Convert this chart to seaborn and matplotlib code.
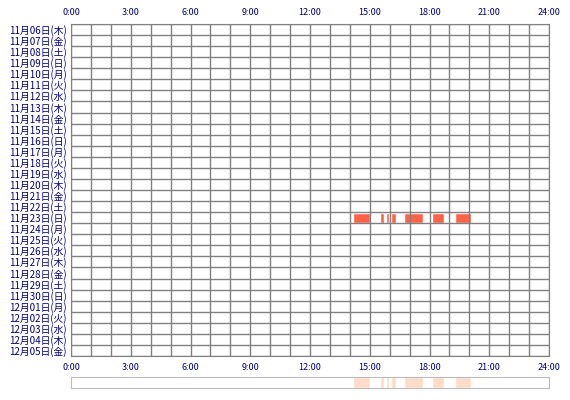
import matplotlib
matplotlib.use('Agg')
import matplotlib.pyplot as plt
import seaborn as sns
import pandas as pd

sns.set_style('white')
plt.rcParams['font.family'] = ['Noto Sans CJK JP', 'DejaVu Sans']

# Day labels (top to bottom)
days = ['11月06日(木)', '11月07日(金)', '11月08日(土)', '11月09日(日)', '11月10日(月)',
        '11月11日(火)', '11月12日(水)', '11月13日(木)', '11月14日(金)', '11月15日(土)',
        '11月16日(日)', '11月17日(月)', '11月18日(火)', '11月19日(水)', '11月20日(木)',
        '11月21日(金)', '11月22日(土)', '11月23日(日)', '11月24日(月)', '11月25日(火)',
        '11月26日(水)', '11月27日(木)', '11月28日(金)', '11月29日(土)', '11月30日(日)',
        '12月01日(月)', '12月02日(火)', '12月03日(水)', '12月04日(木)', '12月05日(金)']
# Active segments (day, start hour, end hour)
seg_day = ['11月23日(日)'] * 8
seg_start = [14.14, 15.51, 15.80, 16.05, 16.62, 16.73, 18.11, 19.28]
seg_end = [15.01, 15.73, 15.96, 16.32, 16.68, 17.69, 18.72, 20.07]
hour_ticks = [0, 3, 6, 9, 12, 15, 18, 21, 24]
hour_labels = ['0:00', '3:00', '6:00', '9:00', '12:00', '15:00', '18:00', '21:00', '24:00']

df = pd.DataFrame({'day': seg_day, 'start': seg_start, 'end': seg_end})
df['row'] = df['day'].map({d: i for i, d in enumerate(days)})
df['dur'] = df['end'] - df['start']

navy = '#000080'
fig = plt.figure(figsize=(5.7, 4.0), dpi=100)
ax = fig.add_axes([71 / 570, 1 - 356 / 400, 478 / 570, 332 / 400])
ax.barh(df['row'], df['dur'], left=df['start'], height=0.9, color='#ff6347', zorder=1)
ax.set_xlim(0, 24)
ax.set_ylim(len(days) - 0.5, -0.5)
ax.set_xticks(hour_ticks)
ax.set_xticklabels(hour_labels, color=navy, fontsize=6.5)
ax.set_yticks(range(len(days)))
ax.set_yticklabels(days, color=navy, fontsize=7)
ax.tick_params(axis='both', length=0, pad=3)
ax.tick_params(axis='x', labeltop=True, labelbottom=True, pad=5)
ax.grid(False)
# grid lines: every hour, every day
ax.vlines(range(25), -0.5, len(days) - 0.5, color='#808080', linewidth=1, zorder=2)
ax.hlines([i - 0.5 for i in range(len(days) + 1)], 0, 24, color='#808080', linewidth=1, zorder=2)
for s in ax.spines.values():
    s.set_color('#808080')

# summary strip
ax2 = fig.add_axes([71 / 570, 1 - 388 / 400, 478 / 570, 11 / 400])
ax2.barh([0] * len(df), df['dur'], left=df['start'], height=1, color='#ffdcc8')
ax2.set_xlim(0, 24)
ax2.set_ylim(-0.5, 0.5)
ax2.set_xticks([])
ax2.set_yticks([])
for s in ax2.spines.values():
    s.set_color('#bbbbbb')

fig.savefig('out.png', dpi=100)
